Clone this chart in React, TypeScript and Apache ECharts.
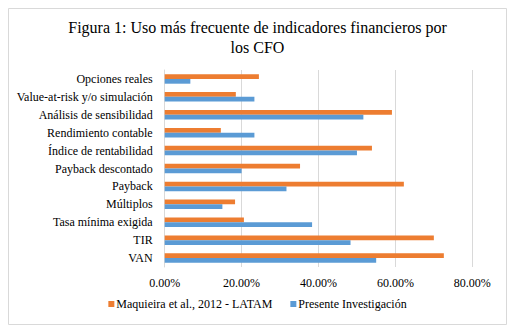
import React, { useEffect, useRef } from "react";
import * as echarts from "echarts";

const categories = [
  "VAN",
  "TIR",
  "Tasa mínima exigida",
  "Múltiplos",
  "Payback",
  "Payback descontado",
  "Índice de rentabilidad",
  "Rendimiento contable",
  "Análisis de sensibilidad",
  "Value-at-risk y/o simulación",
  "Opciones reales",
];
const maquieira = [72.6, 70.0, 20.6, 18.3, 62.2, 35.2, 53.9, 14.6, 59.1, 18.5, 24.5];
const presente = [55.0, 48.33, 38.33, 15.0, 31.67, 20.0, 50.0, 23.33, 51.67, 23.33, 6.67];
const xTicks = [0, 20, 40, 60, 80];

const FONT = "'Liberation Serif', 'Times New Roman', serif";

export default function App() {
  const ref = useRef<HTMLDivElement>(null);
  useEffect(() => {
    if (!ref.current) return;
    const chart = echarts.init(ref.current, undefined, { renderer: "svg" });
    chart.setOption({
      animation: false,
      textStyle: { fontFamily: FONT },
      graphic: [
        {
          type: "rect",
          shape: { x: 0.5, y: 0.5, width: 498, height: 316 },
          style: { fill: "#fff", stroke: "#d9d9d9", lineWidth: 1 },
          z: -10,
        },
      ],
      title: {
        text: "Figura 1: Uso más frecuente de indicadores financieros por\nlos CFO",
        left: "center",
        top: 4,
        textStyle: {
          fontFamily: FONT,
          fontSize: 16,
          fontWeight: "normal",
          color: "#000",
          lineHeight: 20,
        },
      },
      legend: {
        data: ["Maquieira et al., 2012 - LATAM", "Presente Investigación"],
        bottom: 10,
        left: "center",
        itemWidth: 6,
        itemHeight: 6,
        itemGap: 18,
        icon: "rect",
        textStyle: { fontFamily: FONT, fontSize: 12, color: "#000", padding: [0, 0, 0, -3] },
      },
      grid: { left: 156.7, right: 34.7, top: 62, bottom: 58, containLabel: false },
      xAxis: {
        type: "value",
        min: 0,
        max: 80,
        interval: 20,
        axisLine: { show: false },
        axisTick: { show: false },
        splitLine: { show: true, lineStyle: { color: "#d9d9d9", width: 1 } },
        axisLabel: {
          fontFamily: FONT,
          fontSize: 12,
          color: "#000",
          margin: 10,
          formatter: (v: number) => (xTicks.includes(v) ? v.toFixed(2) + "%" : ""),
        },
      },
      yAxis: {
        type: "category",
        data: categories,
        axisLine: { show: true, lineStyle: { color: "#d9d9d9" } },
        axisTick: { show: false },
        axisLabel: { fontFamily: FONT, fontSize: 12, color: "#000", margin: 12 },
      },
      series: [
        {
          name: "Maquieira et al., 2012 - LATAM",
          type: "bar",
          data: maquieira,
          itemStyle: { color: "#ED7D31" },
          barGap: "0%",
          barCategoryGap: "47%",
        },
        {
          name: "Presente Investigación",
          type: "bar",
          data: presente,
          itemStyle: { color: "#5B9BD5" },
          barGap: "0%",
          barCategoryGap: "47%",
        },
      ],
    });
    return () => chart.dispose();
  }, []);
  return <div ref={ref} style={{ width: 499, height: 317 }} />;
}
